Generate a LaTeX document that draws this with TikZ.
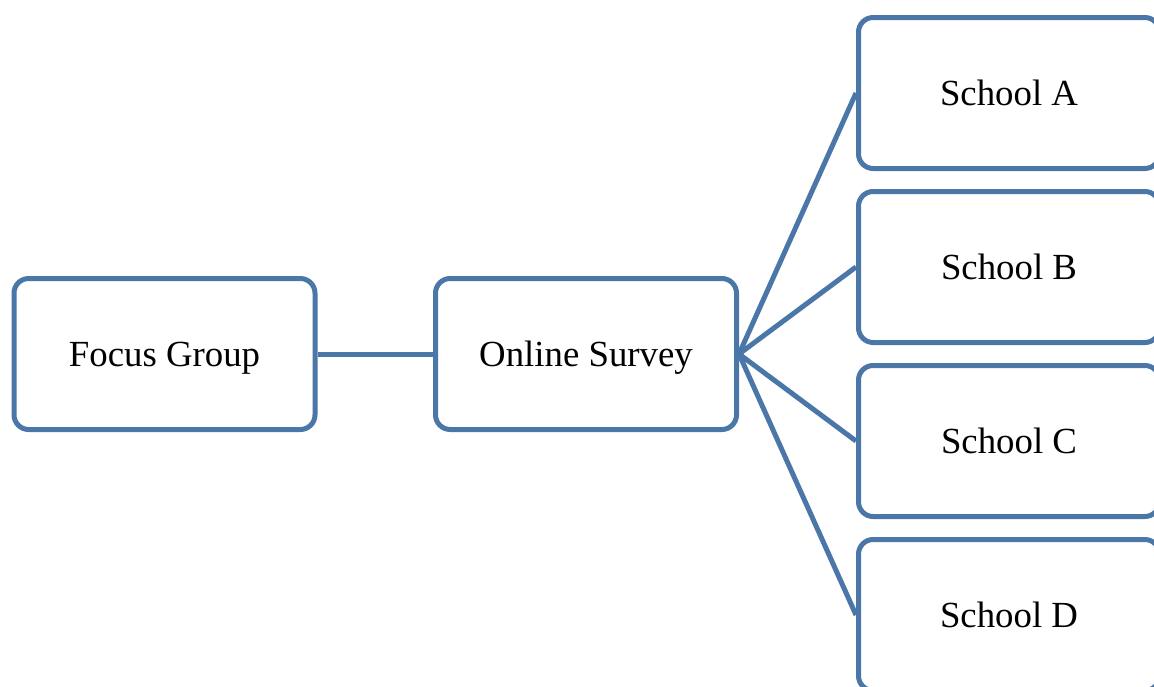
\documentclass[tikz,border=0pt]{standalone}
\usepackage{fontspec}
\setmainfont{Liberation Serif}
\definecolor{boxblue}{RGB}{74,118,168}
\begin{document}
\begin{tikzpicture}[x=0.75pt,y=-0.75pt,
  stagebox/.style={draw=boxblue, line width=3.75pt, rounded corners=11pt,
    fill=white, minimum width=225.75pt, minimum height=113.25pt,
    inner sep=0pt, text height=23pt, text depth=5pt,
    font=\fontsize{27.6}{33}\selectfont},
  link/.style={draw=boxblue, line width=3.75pt}]
  \useasboundingbox (0,0) rectangle (1154,686);
  \clip (0,0) rectangle (1154,686);
  % research stages
  \node[stagebox] (focus)  at (164.5,354) {Focus Group};
  \node[stagebox] (survey) at (586,354)   {Online Survey};
  % participating schools
  \node[stagebox] (schA) at (1009,93)  {School A};
  \node[stagebox] (schB) at (1009,267) {School B};
  \node[stagebox] (schC) at (1009,441) {School C};
  \node[stagebox] (schD) at (1009,615) {School D};
  % connectors
  \draw[link] (focus.east) -- (survey.west);
  \foreach \s in {schA,schB,schC,schD}
    \draw[link] (survey.east) -- (\s.west);
\end{tikzpicture}
\end{document}
